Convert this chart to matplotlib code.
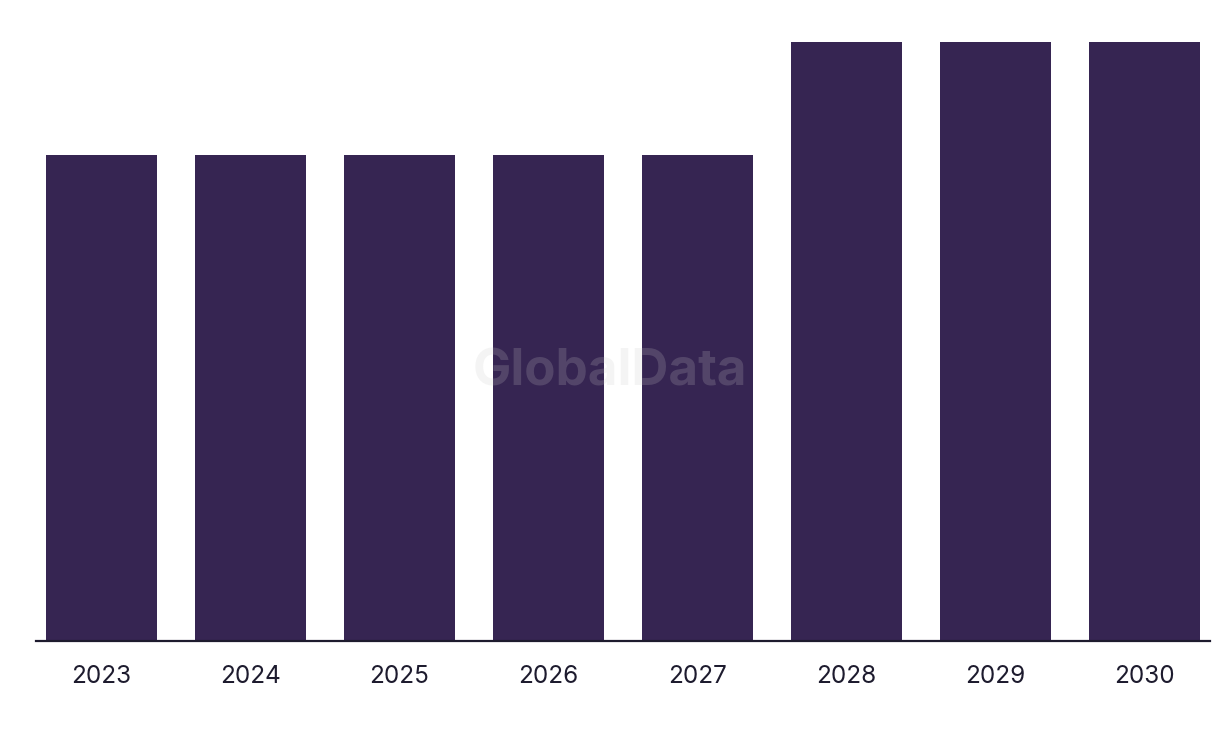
import matplotlib
matplotlib.use("Agg")
import matplotlib.pyplot as plt

years = ["2023", "2024", "2025", "2026", "2027", "2028", "2029", "2030"]
values = [4.3, 4.3, 4.3, 4.3, 4.3, 5.3, 5.3, 5.3]

bar_color = "#362552"
text_color = "#1d1b2e"

fig = plt.figure(figsize=(12.2, 7.38), dpi=100)
ax = fig.add_axes([36/1220, 1 - 641/738, (1210 - 36)/1220, (641 - 42)/738])

x = list(range(len(years)))
ax.bar(x, values, width=0.745, color=bar_color, zorder=2)
ax.set_xlim(-0.44, 7.44)
ax.set_ylim(0, max(values))
ax.set_xticks(x)
ax.set_xticklabels(years, fontsize=17.5, color=text_color, family=["Inter", "DejaVu Sans"])
ax.tick_params(axis="x", length=0, pad=17)
ax.set_yticks([])
for s in ["top", "right", "left"]:
    ax.spines[s].set_visible(False)
ax.spines["bottom"].set_color(text_color)
ax.spines["bottom"].set_linewidth(1.6)
ax.spines["bottom"].set_zorder(3)

fig.text(610/1220, 1 - 372/738, "GlobalData", ha="center", va="center",
         fontsize=36.8, fontweight="bold", color="#c8c8c8", alpha=0.2,
         family=["Inter", "DejaVu Sans"], zorder=10)

fig.savefig("out.png", dpi=100)
